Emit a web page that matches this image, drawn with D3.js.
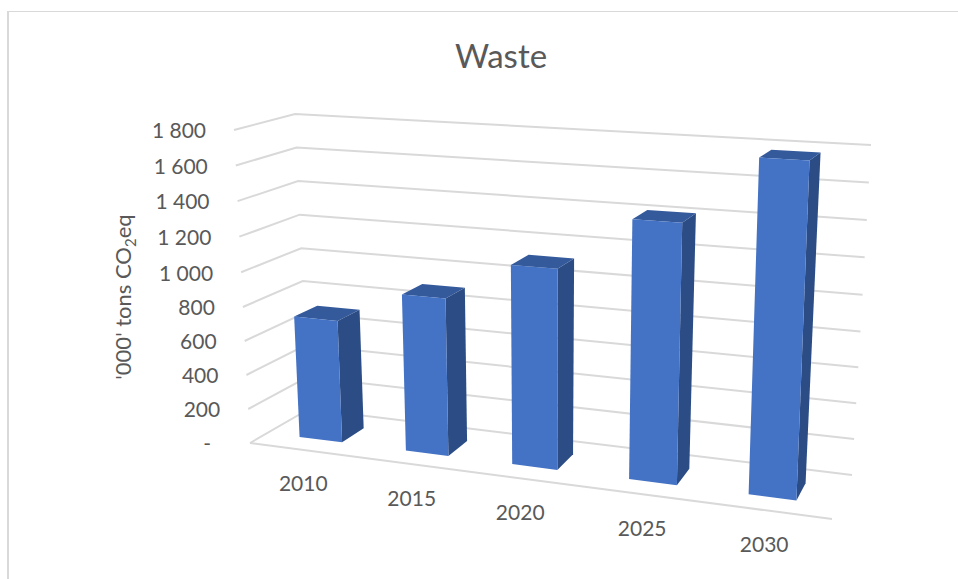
<!DOCTYPE html>
<html><head><meta charset="utf-8">
<script src="https://cdn.jsdelivr.net/npm/d3@7"></script>
<style>html,body{margin:0;padding:0;background:#fff}svg{display:block}text{font-family:Lato,"Open Sans",sans-serif;fill:#595959}</style>
</head><body>
<script>
const categories = ["2010","2015","2020","2025","2030"];
const values = [715, 905, 1120, 1415, 1780];
const tickValues = [0,200,400,600,800,1000,1200,1400,1600,1800];
const tickLabels = ["-","200","400","600","800","1 000","1 200","1 400","1 600","1 800"];
const title = "Waste";

const W = 958, H = 579;
const svg = d3.select("body").append("svg").attr("width",W).attr("height",H);
const color = {front:"#4472C4", side:"#2B4C84", top:"#345A9C", grid:"#D9D9D9"};

// projection of the chart box: four vertical edges, each a value scale
const vDom = [0,900,1800];
const edge = (xs,ys)=>({x:d3.scaleLinear().domain(vDom).range(xs), y:d3.scaleLinear().domain(vDom).range(ys)});
const FL = edge([250,242,234],[443,290,130]);
const BL = edge([309,302,295],[409,265,114]);
const BR = edge([852,861.5,871],[475,313.5,145]);
const FR = edge([832,839,846],[519,346,165]);
const warp = d3.scaleLinear().domain([0,.5,1]).range([0,.466,.99]);
const band = d3.scaleBand().domain(categories).range([0,1]).paddingInner(.6).paddingOuter(.3);
const mix = (a,b,t)=>a+(b-a)*t;
function P(u,v,z,w0){
  const w = w0===undefined ? warp(u) : w0;
  const fx = mix(FL.x(v),FR.x(v),w), fy = mix(FL.y(v),FR.y(v),w);
  const bx = mix(BL.x(v),BR.x(v),w), by = mix(BL.y(v),BR.y(v),w);
  return [mix(fx,bx,z), mix(fy,by,z)];
}
const line = d3.line();
const poly = pts=>line(pts)+"Z";

// frame
const frame = svg.append("g").attr("fill","none").attr("stroke",color.grid);
frame.append("path").attr("d",line([[8,H],[8,12]])).attr("stroke-width",2);
frame.append("path").attr("d",line([[7,11.5],[W,11.5]])).attr("stroke-width",1);

// gridlines
const grid = svg.append("g").attr("fill","none").attr("stroke",color.grid).attr("stroke-width",2);
tickValues.forEach(t=>{
  grid.append("path").attr("d",line([P(0,t,0,0),P(0,t,1,0),P(1,t,1,1)]));
});
grid.append("path").attr("d",line([P(0,0,0,0),P(1,0,0,1)]));

// bars
const zA=.3, zB=.7;
const bars = svg.append("g").selectAll("g").data(categories.map((c,i)=>({c,v:values[i]}))).join("g");
bars.each(function(d){
  const g=d3.select(this), a=band(d.c), b=a+band.bandwidth();
  g.append("path").attr("fill",color.side).attr("d",poly([P(b,0,zA),P(b,0,zB),P(b,d.v,zB),P(b,d.v,zA)]));
  g.append("path").attr("fill",color.top).attr("d",poly([P(a,d.v,zA),P(b,d.v,zA),P(b,d.v,zB),P(a,d.v,zB)]));
  g.append("path").attr("fill",color.front).attr("d",poly([P(a,0,zA),P(b,0,zA),P(b,d.v,zA),P(a,d.v,zA)]));
});

// value labels
svg.append("g").selectAll("text").data(tickValues).join("text")
  .attr("x",t=>P(0,t,0,0)[0]-28-(t===0?11:0))
  .attr("y",t=>P(0,t,0,0)[1]+3)
  .attr("text-anchor","end").attr("dominant-baseline","middle")
  .attr("font-size",21).text((t,i)=>tickLabels[i]);

// category labels
svg.append("g").selectAll("text").data(categories).join("text")
  .attr("x",c=>P(band(c)+band.bandwidth()/2,0,0)[0]-1)
  .attr("y",c=>P(band(c)+band.bandwidth()/2,0,0)[1]+36)
  .attr("text-anchor","middle").attr("dominant-baseline","middle")
  .attr("font-size",21).text(c=>c);

// title
svg.append("text").attr("x",501).attr("y",60).attr("text-anchor","middle").attr("dominant-baseline","middle")
  .attr("font-size",33).text(title);

// axis title
const at = svg.append("text").attr("transform","translate(131,297) rotate(-90)").attr("text-anchor","middle").attr("font-size",22);
at.append("tspan").text("'000' tons CO");
at.append("tspan").attr("dy",5).attr("font-size",15).text("2");
at.append("tspan").attr("dy",-5).text("eq");
</script>
</body></html>
